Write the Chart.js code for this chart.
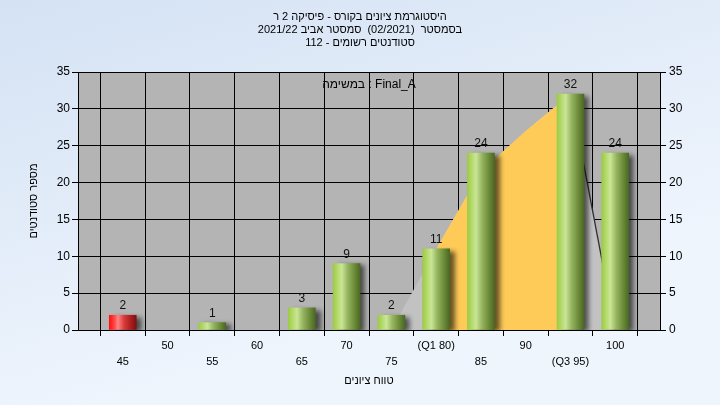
<!DOCTYPE html>
<html><head><meta charset="utf-8">
<script src="https://cdn.jsdelivr.net/npm/chart.js@4"></script>
<style>
html,body{margin:0;padding:0;background:#e4edf8;}
#wrap{width:720px;height:405px;}
canvas{direction:rtl;display:block;}
</style>
</head><body>
<div id="wrap"><canvas id="c" width="720" height="405"></canvas></div>
<script>
// ---- data ----
const scores = [45, 50, 55, 60, 65, 70, 75, 80, 85, 90, 95, 100];
const counts = [2, 0, 1, 0, 3, 9, 2, 11, 24, 0, 32, 24];
const xTickLabels = ['45', '50', '55', '60', '65', '70', '75', '(Q1 80)', '85', '90', '(Q3 95)', '100'];
const curveX = [75, 80, 85, 90, 95, 100];
const curveY = [0, 11, 21.5, 27, 32, 0];
const q1 = 80;
const q3 = 95;
const failBelow = 55;
const titleLines = ['היסטוגרמת ציונים בקורס - פיסיקה 2 ר', 'בסמסטר  (02/2021)  סמסטר אביב 2021/22', 'סטודנטים רשומים - 112'];
const taskLabel = 'Final_A : במשימה';
const xTitle = 'טווח ציונים';
const yTitle = 'מספר סטודנטים';

// ---- styles ----
Chart.defaults.font.family = "'Liberation Sans', 'DejaVu Sans', Arial, sans-serif";
Chart.defaults.color = '#000';
const greenStops = [[0, '#9dcb45'], [0.2, '#b9dd75'], [0.32, '#cae596'], [0.55, '#93b35e'], [0.8, '#6a8a38'], [1, '#4a6822']];
const redStops = [[0, '#ff1010'], [0.2, '#ff4a4a'], [0.32, '#ff8484'], [0.55, '#d83a3a'], [0.8, '#aa1e1e'], [1, '#801010']];

function barFill(c) {
  const chart = c.chart;
  const xs = chart.scales && chart.scales.x;
  const fallback = (c.raw && c.raw.x < failBelow) ? '#e02020' : '#8fb850';
  if (!xs || !c.raw) return fallback;
  const px = xs.getPixelForValue(c.raw.x);
  if (!isFinite(px)) return fallback;
  const g = chart.ctx.createLinearGradient(px - 13.5, 0, px + 13.5, 0);
  (c.raw.x < failBelow ? redStops : greenStops).forEach(([o, col]) => g.addColorStop(o, col));
  return g;
}

const bgPlugin = {
  id: 'bg',
  beforeDraw(chart) {
    const ctx = chart.ctx, a = chart.chartArea;
    ctx.save();
    const g = ctx.createLinearGradient(0, 0, 120, 405);
    g.addColorStop(0, '#d4e2f4');
    g.addColorStop(1, '#eff5fd');
    ctx.fillStyle = g;
    ctx.fillRect(0, 0, chart.width, chart.height);
    ctx.fillStyle = '#b4b4b4';
    ctx.fillRect(a.left, a.top, a.right - a.left, a.bottom - a.top);
    ctx.restore();
  }
};

const shadowPlugin = {
  id: 'barShadow',
  beforeDatasetDraw(chart, args) {
    if (args.meta.type === 'bar') {
      const ctx = chart.ctx;
      ctx.save();
      ctx.shadowColor = 'rgba(0,0,0,0.6)';
      ctx.shadowBlur = 5;
      ctx.shadowOffsetX = 5;
      ctx.shadowOffsetY = 2;
    }
  },
  afterDatasetDraw(chart, args) {
    if (args.meta.type === 'bar') chart.ctx.restore();
  }
};

const valuePlugin = {
  id: 'values',
  afterDatasetsDraw(chart) {
    const ctx = chart.ctx;
    chart.data.datasets.forEach((ds, di) => {
      const meta = chart.getDatasetMeta(di);
      if (meta.type !== 'bar') return;
      ctx.save();
      ctx.font = "12px 'Liberation Sans', 'DejaVu Sans', Arial, sans-serif";
      ctx.fillStyle = '#111';
      ctx.textAlign = 'center';
      ctx.textBaseline = 'alphabetic';
      meta.data.forEach((el, i) => {
        const v = ds.data[i].y;
        if (v > 0) ctx.fillText(String(v), el.x, el.y - 6);
      });
      ctx.restore();
    });
  }
};

const curveData = curveX.map((x, i) => ({x: x, y: curveY[i]}));
const barData = scores.map((s, i) => ({x: s, y: counts[i]})).filter(p => p.y > 0);

new Chart(document.getElementById('c'), {
  type: 'bar',
  data: {
    datasets: [
      {
        type: 'bar', label: 'counts',
        data: barData,
        barThickness: 27, backgroundColor: barFill, borderWidth: 0, order: 0
      },
      {
        type: 'line', label: 'iqr',
        data: curveData.filter(p => p.x >= q1 && p.x <= q3),
        fill: 'origin', backgroundColor: '#ffcb58', borderWidth: 0, borderColor: 'rgba(0,0,0,0)',
        pointRadius: 0, tension: 0, order: 1
      },
      {
        type: 'line', label: 'curve',
        data: curveData,
        fill: 'origin', backgroundColor: '#c2c2c2', borderWidth: 1.3, borderColor: 'rgba(0,0,0,0)',
        segment: { borderColor: c => (c.p0.parsed.x >= q3 ? '#2e2e2e' : 'rgba(0,0,0,0)') },
        pointRadius: 0, tension: 0, order: 2
      }
    ]
  },
  options: {
    responsive: false,
    animation: false,
    layout: { padding: 0 },
    plugins: {
      legend: { display: false },
      tooltip: { enabled: false },
      title: {
        display: true, text: titleLines, color: '#000',
        font: { size: 11, weight: 'normal', lineHeight: 13 / 11 },
        padding: { top: 10, bottom: 23 }
      },
      subtitle: {
        display: true, text: taskLabel, fullSize: false, color: '#000',
        font: { size: 12, weight: 'normal', lineHeight: 14 / 12 },
        padding: { top: 6, bottom: -20 }
      }
    },
    scales: {
      x: {
        type: 'linear', min: 40, max: 105, offset: false,
        ticks: {
          stepSize: 5, autoSkip: false, maxRotation: 0, minRotation: 0, padding: 2, color: '#000',
          font: { size: 11, lineHeight: 16 / 11 },
          callback: (v) => {
            const i = scores.indexOf(v);
            if (i < 0) return '';
            return i % 2 === 0 ? ['', xTickLabels[i]] : xTickLabels[i];
          }
        },
        grid: { color: '#000', tickColor: '#000', tickLength: 6, lineWidth: 1 },
        border: { color: '#000' },
        title: { display: true, text: xTitle, color: '#000', font: { size: 11, lineHeight: 13 / 11 }, padding: { top: 0, bottom: 17.5 } },
        afterFit: s => { s.height = 75; }
      },
      y: {
        position: 'left', min: 0, max: 35,
        ticks: { stepSize: 5, padding: 2, color: '#000', font: { size: 12 } },
        grid: { color: '#000', tickColor: '#000', tickLength: 6, lineWidth: 1 },
        border: { color: '#000' },
        title: { display: true, text: yTitle, color: '#000', font: { size: 11, lineHeight: 13 / 11 }, padding: { top: 27, bottom: 0 } },
        afterFit: s => { s.width = 78; }
      },
      y2: {
        position: 'right', min: 0, max: 35,
        ticks: { stepSize: 5, padding: 3, color: '#000', font: { size: 12 } },
        grid: { drawOnChartArea: false, tickColor: '#000', tickLength: 6 },
        border: { color: '#000' },
        afterFit: s => { s.width = 60; }
      }
    }
  },
  plugins: [bgPlugin, shadowPlugin, valuePlugin]
});
</script>
</body></html>
